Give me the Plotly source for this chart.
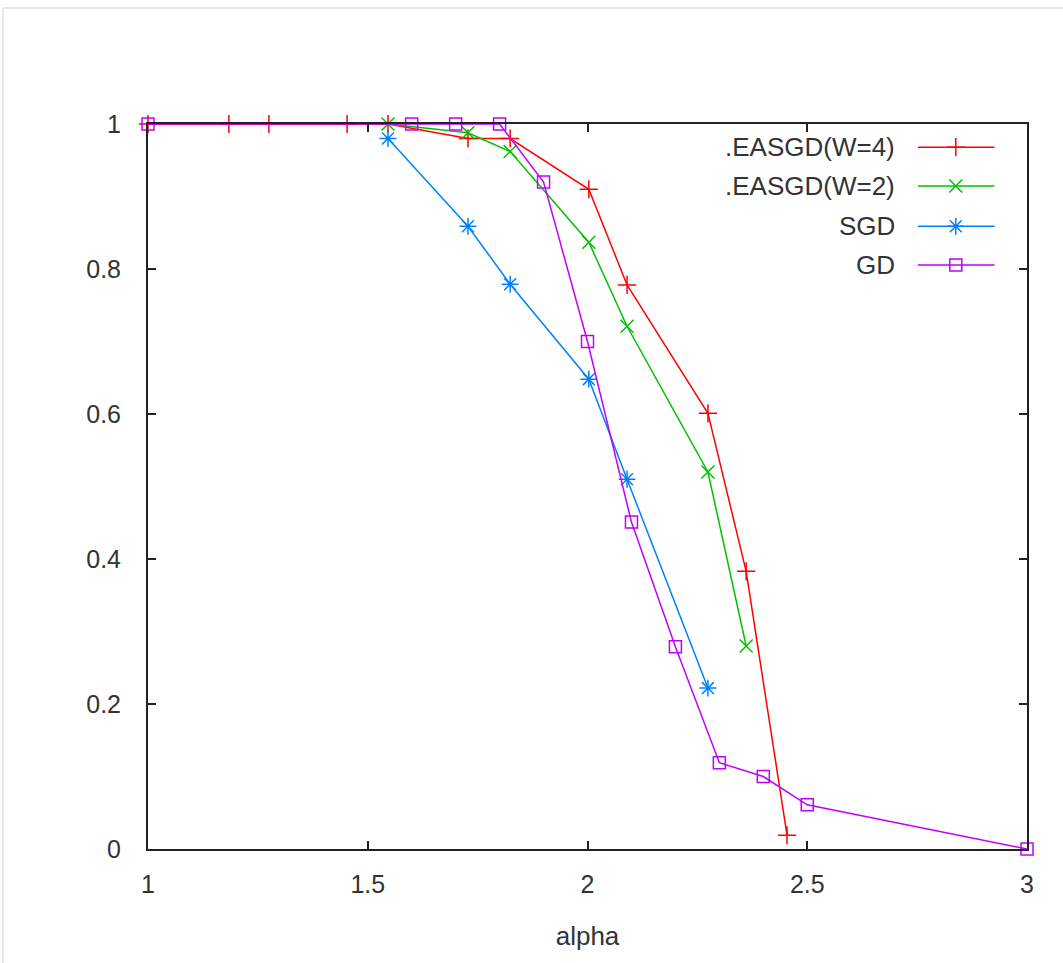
import plotly.graph_objects as go

# ---- data ----
w4_x = [1.0, 1.184, 1.275, 1.453, 1.546, 1.728, 1.824, 2.003, 2.09, 2.274, 2.361, 2.454]
w4_y = [1.0, 1.0, 1.0, 1.0, 1.0, 0.98, 0.98, 0.91, 0.778, 0.601, 0.383, 0.019]

w2_x = [1.546, 1.728, 1.824, 2.003, 2.09, 2.274, 2.361]
w2_y = [1.0, 0.988, 0.962, 0.837, 0.721, 0.52, 0.28]

sgd_x = [1.546, 1.728, 1.824, 2.003, 2.09, 2.274]
sgd_y = [0.98, 0.859, 0.779, 0.648, 0.51, 0.222]

gd_x = [1.0, 1.6, 1.7, 1.8, 1.9, 2.0, 2.1, 2.2, 2.3, 2.4, 2.5, 3.0]
gd_y = [1.0, 1.0, 1.0, 1.0, 0.92, 0.70, 0.451, 0.279, 0.119, 0.10, 0.061, 0.0]

names = [".EASGD(W=4)", ".EASGD(W=2)", "SGD", "GD"]
colors = ["#ff0000", "#00c000", "#0080ff", "#c000ff"]
symbols = ["cross-thin-open", "x-thin-open", "asterisk-open", "square-open"]
sizes = [13, 13, 14, 12]

x_ticks = [1, 1.5, 2, 2.5, 3]
y_ticks = [0, 0.2, 0.4, 0.6, 0.8, 1]

series = [(w4_x, w4_y), (w2_x, w2_y), (sgd_x, sgd_y), (gd_x, gd_y)]

FONT = "Liberation Sans, Arial, sans-serif"
TXT = "#333333"

fig = go.Figure()
for (xs, ys), n, c, s, sz in zip(series, names, colors, symbols, sizes):
    fig.add_trace(go.Scatter(
        x=xs, y=ys, mode="lines+markers", name=n, showlegend=False,
        line=dict(color=c, width=1.5),
        marker=dict(symbol=s, size=sz, color=c, line=dict(color=c, width=1.5)),
        cliponaxis=False,
    ))

# legend drawn gnuplot-style (text right aligned, sample on the right)
leg_rows = [0.968, 0.9145, 0.859, 0.8055]
for n, c, s, sz, ry in zip(names, colors, symbols, sizes, leg_rows):
    fig.add_trace(go.Scatter(
        x=[0.876, 0.963], y=[ry, ry], mode="lines", xaxis="x2", yaxis="y2",
        line=dict(color=c, width=1.5), showlegend=False, hoverinfo="skip"))
    fig.add_trace(go.Scatter(
        x=[0.919], y=[ry], mode="markers", xaxis="x2", yaxis="y2",
        marker=dict(symbol=s, size=sz, color=c, line=dict(color=c, width=1.5)),
        showlegend=False, hoverinfo="skip"))
    fig.add_annotation(x=0.852, y=ry, xref="x2", yref="y2", text=n, showarrow=False,
                       xanchor="right", yanchor="middle",
                       font=dict(family=FONT, size=26, color=TXT))

axis_common = dict(showgrid=False, zeroline=False, showline=True, mirror="ticks",
                   ticks="inside", ticklen=8, tickwidth=1.5, tickcolor="#222222",
                   linecolor="#222222", linewidth=2,
                   tickfont=dict(family=FONT, size=25, color=TXT))

fig.update_layout(
    width=1063, height=963,
    margin=dict(l=148, r=36, t=124, b=114),
    paper_bgcolor="white", plot_bgcolor="white",
    showlegend=False,
    xaxis=dict(range=[1, 3], tickvals=x_ticks, ticktext=[f"{v:g}" for v in x_ticks],
               ticklabelstandoff=12,
               title=dict(text="alpha", standoff=30, font=dict(family=FONT, size=26, color=TXT)),
               **axis_common),
    yaxis=dict(range=[0, 1], tickvals=y_ticks, ticktext=[f"{v:g}" for v in y_ticks],
               ticklabelstandoff=20, **axis_common),
    xaxis2=dict(overlaying="x", range=[0, 1], visible=False),
    yaxis2=dict(overlaying="y", range=[0, 1], visible=False),
    shapes=[
        dict(type="line", xref="paper", yref="paper", x0=(3 - 148) / 879, x1=(1063 - 148) / 879,
             y0=(849 - 8) / 725, y1=(849 - 8) / 725, line=dict(color="#e0e0e0", width=1.5)),
        dict(type="line", xref="paper", yref="paper", x0=(3 - 148) / 879, x1=(3 - 148) / 879,
             y0=(849 - 8) / 725, y1=(849 - 963) / 725, line=dict(color="#e0e0e0", width=1.5)),
    ],
)

fig.write_html("out.html")
